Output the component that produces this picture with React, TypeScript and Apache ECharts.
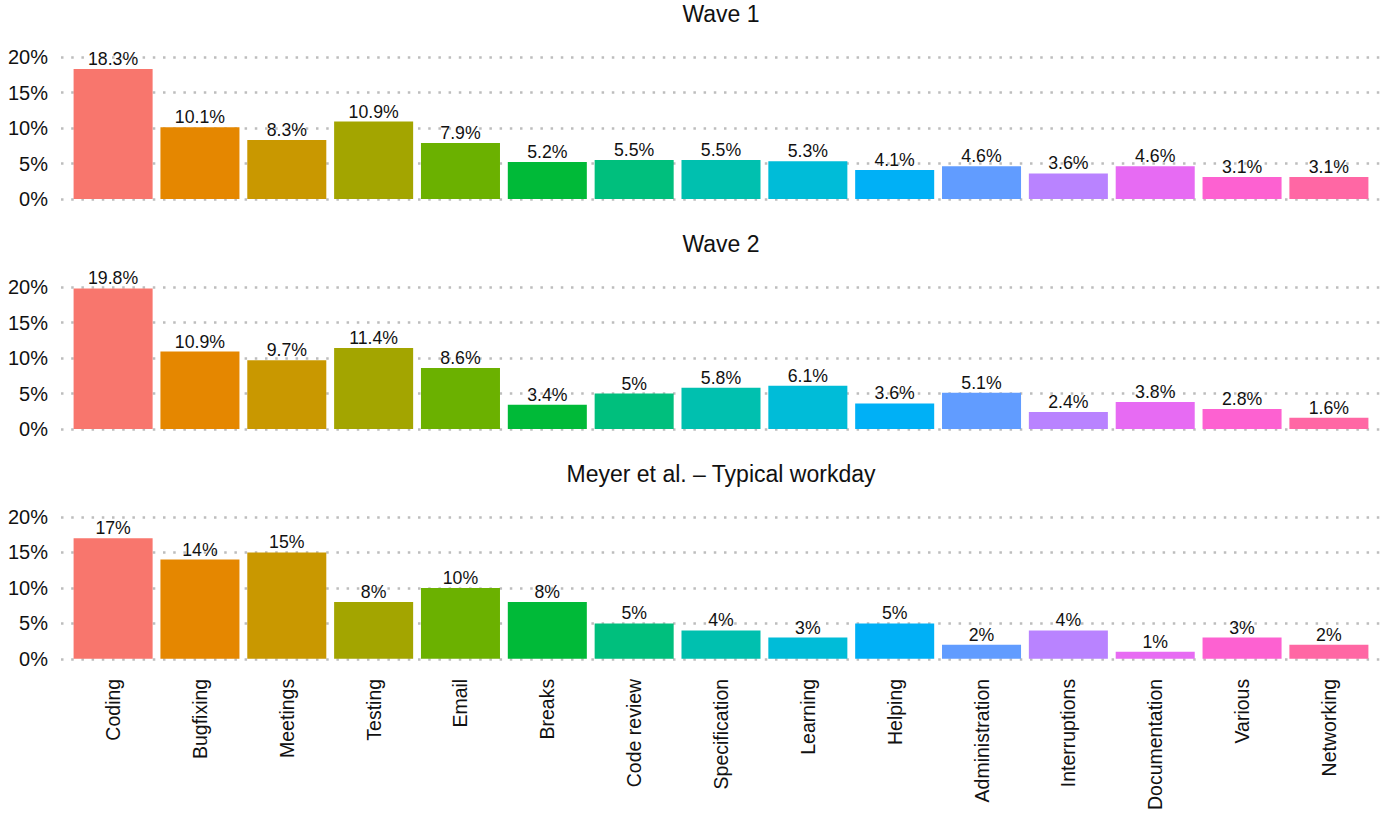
import React, { useEffect, useRef } from "react";
import * as echarts from "echarts";

const categories = [
  "Coding", "Bugfixing", "Meetings", "Testing", "Email", "Breaks", "Code review",
  "Specification", "Learning", "Helping", "Administration", "Interruptions",
  "Documentation", "Various", "Networking",
];
const wave1 = [18.3, 10.1, 8.3, 10.9, 7.9, 5.2, 5.5, 5.5, 5.3, 4.1, 4.6, 3.6, 4.6, 3.1, 3.1];
const wave2 = [19.8, 10.9, 9.7, 11.4, 8.6, 3.4, 5, 5.8, 6.1, 3.6, 5.1, 2.4, 3.8, 2.8, 1.6];
const meyer = [17, 14, 15, 8, 10, 8, 5, 4, 3, 5, 2, 4, 1, 3, 2];
const panelTitles = ["Wave 1", "Wave 2", "Meyer et al. \u2013 Typical workday"];
const colors = [
  "#F8766D", "#E58700", "#C99800", "#A3A500", "#6BB100", "#00BA38", "#00BF7D",
  "#00C0AF", "#00BCD8", "#00B0F6", "#619CFF", "#B983FF", "#E76BF3", "#FD61D1", "#FF67A4",
];

const FONT = "Liberation Sans, Arial, Helvetica, sans-serif";

export default function App() {
  const ref = useRef<HTMLDivElement>(null);
  useEffect(() => {
    if (!ref.current) return;
    const chart = echarts.init(ref.current, null, { renderer: "svg" });
    const panels = [wave1, wave2, meyer];
    const tops = [57, 287, 517];
    const grids = tops.map((t) => ({ left: 61, width: 1320, top: t, height: 142 }));
    const xAxis = panels.map((_, i) => ({
      type: "value",
      gridIndex: i,
      min: -0.6,
      max: 14.6,
      splitLine: { show: false },
      axisLine: { show: false },
      axisTick: { show: false },
      axisLabel:
        i === 2
          ? {
              show: true,
              customValues: categories.map((_, k) => k),
              formatter: (v: number) => categories[Math.round(v)] ?? "",
              rotate: 90,
              margin: 20,
              fontSize: 19.5,
              color: "#111",
              fontFamily: FONT,
            }
          : { show: false },
    }));
    const yAxis = panels.map((_, i) => ({
      type: "value",
      gridIndex: i,
      min: 0,
      max: 20,
      interval: 5,
      axisLine: { show: false },
      axisTick: { show: false },
      axisLabel: {
        formatter: (v: number) => v + "%",
        fontSize: 20,
        color: "#111",
        margin: 13,
        fontFamily: FONT,
      },
      splitLine: {
        show: true,
        lineStyle: { color: "#bdbdbd", width: 2.5, type: [2.5, 7.7], cap: "butt" },
      },
    }));
    const series = panels.map((vals, i) => ({
      type: "bar",
      xAxisIndex: i,
      yAxisIndex: i,
      barWidth: "91%",
      data: vals.map((v, k) => ({
        value: [k, v],
        itemStyle: { color: colors[k] },
      })),
      label: {
        show: true,
        position: "top",
        distance: 1,
        formatter: (p: any) => p.value[1] + "%",
        fontSize: 17.7,
        color: "#111",
        fontFamily: FONT,
      },
    }));
    const title = panelTitles.map((t, i) => ({
      text: t,
      left: 721,
      textAlign: "center",
      top: tops[i] - 55,
      padding: 0,
      textStyle: { fontSize: 23, fontWeight: "normal", color: "#111", fontFamily: FONT },
    }));
    chart.setOption({
      animation: false,
      backgroundColor: "#ffffff",
      textStyle: { fontFamily: FONT },
      title,
      grid: grids,
      xAxis,
      yAxis,
      series,
    } as any);
    return () => chart.dispose();
  }, []);
  return (
    <div
      ref={ref}
      style={{ position: "fixed", left: 0, top: 0, width: 1384, height: 813 }}
    />
  );
}
